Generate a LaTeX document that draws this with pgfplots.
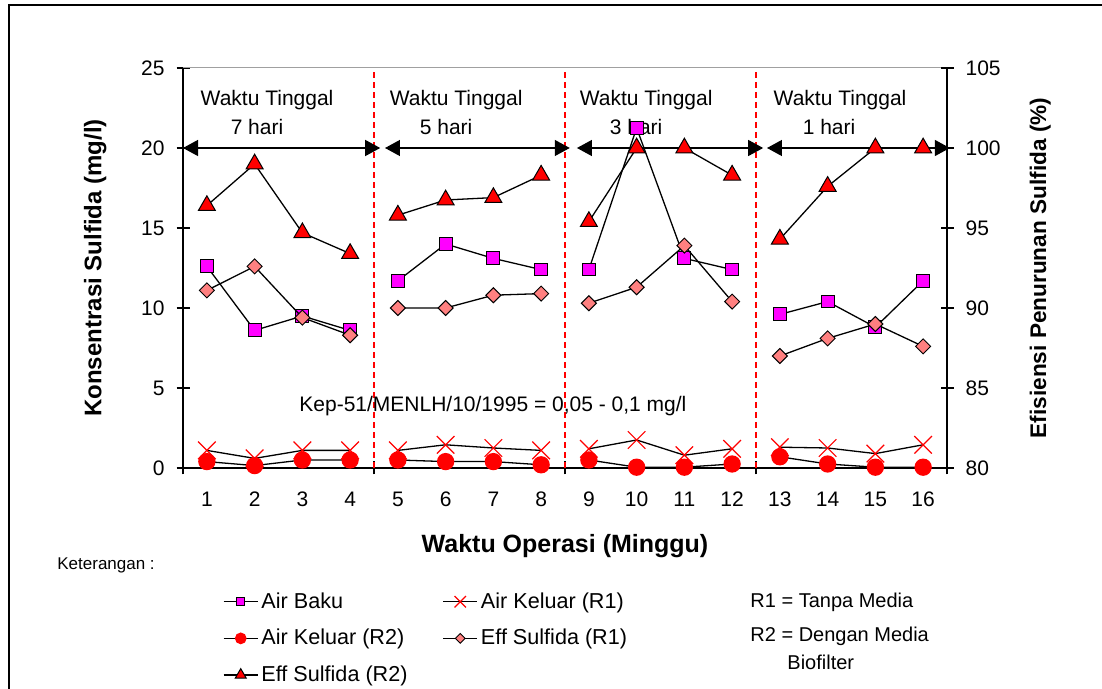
\documentclass[border=0pt]{standalone}
\usepackage{fontspec}
\setmainfont{Liberation Sans}
\usepackage{pgfplots}
\pgfplotsset{compat=1.18}
\usetikzlibrary{arrows.meta}
\definecolor{salmon}{HTML}{FF8080}
\definecolor{mag}{HTML}{FF00FF}
\definecolor{topgray}{HTML}{A0A0A0}
\pgfplotsset{
  sBaku/.style={black, line width=0.65pt, mark=square*, mark size=3.2pt, mark options={fill=mag, draw=black, line width=0.5pt, solid}},
  sR1/.style={black, line width=0.65pt, mark=x, mark size=6.2pt, mark options={draw=red, line width=0.6pt, solid}},
  sR2/.style={black, line width=0.65pt, mark=*, mark size=4pt, mark options={fill=red, draw=red, solid}},
  sE1/.style={black, line width=0.65pt, mark=square*, mark size=2.65pt, mark options={rotate=45, fill=salmon, draw=black, line width=0.5pt, solid}},
  sE2/.style={black, line width=0.65pt, mark=triangle*, mark size=4.9pt, mark options={fill=red, draw=black, line width=0.5pt, solid}},
  common/.style={
    at={(91.5pt,110.5pt)}, anchor=south west,
    scale only axis, width=382pt, height=200pt,
    xmin=0.5, xmax=16.5, clip=false,
    unbounded coords=jump,
    axis line style={black, line width=0.65pt},
    tick align=center, major tick length=6.5pt,
    tick style={black, line width=0.65pt},
    tick label style={font=\fontsize{10.5}{12}\selectfont},
    /pgf/number format/assume math mode=true,
    ticklabel shift=2.5pt,
  }
}
\begin{document}
\begin{tikzpicture}
\useasboundingbox (0,0) rectangle (551pt,344.5pt);
\draw[line width=1pt] (4.5pt,0pt) -- (4.5pt,342pt) -- (551pt,342pt);

\begin{axis}[common,
  ymin=0, ymax=25,
  axis x line*=bottom, axis y line*=left,
  xtick={0.5,4.5,8.5,12.5,16.5}, xticklabels={,,,,},
  extra x ticks={1,2,3,4,5,6,7,8,9,10,11,12,13,14,15,16},
  extra x tick labels={1,2,3,4,5,6,7,8,9,10,11,12,13,14,15,16},
  extra x tick style={major tick length=0pt, tick label style={yshift=-6pt}},
  ytick={0,5,10,15,20,25},
  xlabel={Waktu Operasi (Minggu)},
  xlabel style={font=\bfseries\fontsize{12.5}{14}\selectfont, at={(axis description cs:0.5,-0.195)}, anchor=center},
  ylabel={Konsentrasi Sulfida (mg/l)},
  ylabel style={font=\bfseries\fontsize{12}{14}\selectfont, at={(axis description cs:-0.115,0.5)}, anchor=center},
]
\draw[topgray, line width=0.5pt] (axis cs:0.5,25) -- (axis cs:16.5,25);
\foreach \xx in {4.5,8.5,12.5}{
  \edef\tmp{\noexpand\draw[red, line width=0.55pt, dash pattern=on 3pt off 2pt] (axis cs:\xx,0) -- (axis cs:\xx,25);}\tmp
}
\draw[line width=0.65pt, {Triangle[length=7.5pt,width=8pt]}-{Triangle[length=7.5pt,width=8pt]}] (axis cs:0.5,20) -- (axis cs:4.63,20);
\draw[line width=0.65pt, {Triangle[length=7.5pt,width=8pt]}-{Triangle[length=7.5pt,width=8pt]}] (axis cs:4.73,20) -- (axis cs:8.60,20);
\draw[line width=0.65pt, {Triangle[length=7.5pt,width=8pt]}-{Triangle[length=7.5pt,width=8pt]}] (axis cs:8.75,20) -- (axis cs:12.65,20);
\draw[line width=0.65pt, {Triangle[length=7.5pt,width=8pt]}-{Triangle[length=7.5pt,width=8pt]}] (axis cs:12.73,20) -- (axis cs:16.56,20);
\node[font=\fontsize{10.5}{12}\selectfont] at (axis cs:2.26,23) {Waktu Tinggal};
\node[font=\fontsize{10.5}{12}\selectfont] at (axis cs:6.22,23) {Waktu Tinggal};
\node[font=\fontsize{10.5}{12}\selectfont] at (axis cs:10.20,23) {Waktu Tinggal};
\node[font=\fontsize{10.5}{12}\selectfont] at (axis cs:14.26,23) {Waktu Tinggal};
\node[font=\fontsize{10.5}{12}\selectfont] at (axis cs:2.05,21.3) {7 hari};
\node[font=\fontsize{10.5}{12}\selectfont] at (axis cs:6.01,21.3) {5 hari};
\node[font=\fontsize{10.5}{12}\selectfont] at (axis cs:9.99,21.3) {3 hari};
\node[font=\fontsize{10.5}{12}\selectfont] at (axis cs:14.03,21.3) {1 hari};
\node[font=\fontsize{10.5}{12}\selectfont] at (axis cs:6.99,3.9) {Kep-51/MENLH/10/1995 = 0,05 - 0,1 mg/l};

\addplot[sBaku] coordinates {(1,12.6) (2,8.6) (3,9.5) (4,8.6) (4.5,nan) (5,11.7) (6,14.0) (7,13.1) (8,12.4) (8.5,nan) (9,12.4) (10,21.25) (11,13.1) (12,12.4) (12.5,nan) (13,9.6) (14,10.4) (15,8.8) (16,11.7)};
\addplot[sR1] coordinates {(1,1.1) (2,0.6) (3,1.1) (4,1.1) (4.5,nan) (5,1.1) (6,1.45) (7,1.25) (8,1.1) (8.5,nan) (9,1.2) (10,1.75) (11,0.8) (12,1.2) (12.5,nan) (13,1.3) (14,1.25) (15,0.9) (16,1.45)};
\addplot[sR2] coordinates {(1,0.4) (2,0.15) (3,0.5) (4,0.5) (4.5,nan) (5,0.5) (6,0.4) (7,0.4) (8,0.2) (8.5,nan) (9,0.5) (10,0.05) (11,0.05) (12,0.25) (12.5,nan) (13,0.7) (14,0.25) (15,0.05) (16,0.05)};
\end{axis}

\begin{axis}[common,
  ymin=80, ymax=105,
  axis y line*=right, axis x line=none,
  ytick={80,85,90,95,100,105},
  ylabel={Efisiensi Penurunan Sulfida (\%)},
  ylabel style={font=\bfseries\fontsize{11.3}{13}\selectfont, at={(axis description cs:1.122,0.5)}, anchor=center},
  legend columns=2,
  legend cell align=left,
  legend image post style={/tikz/every mark/.append style={scale=0.65}},
  legend style={at={(axis description cs:0.044,-0.29)}, anchor=north west, draw=none, fill=none,
    font=\fontsize{10.8}{12}\selectfont, row sep=5pt, nodes={inner xsep=1.5pt},
    /tikz/every even column/.append style={column sep=16pt}},
]
\addlegendimage{sBaku}\addlegendentry{Air Baku}
\addlegendimage{sR1}\addlegendentry{Air Keluar (R1)}
\addlegendimage{sR2}\addlegendentry{Air Keluar (R2)}
\addplot[sE1] coordinates {(1,91.1) (2,92.6) (3,89.4) (4,88.3) (4.5,nan) (5,90.0) (6,90.0) (7,90.8) (8,90.9) (8.5,nan) (9,90.3) (10,91.3) (11,93.9) (12,90.4) (12.5,nan) (13,87.0) (14,88.1) (15,89.0) (16,87.6)};
\addlegendentry{Eff Sulfida (R1)}
\addplot[sE2] coordinates {(1,96.4) (2,99.0) (3,94.7) (4,93.4) (4.5,nan) (5,95.8) (6,96.75) (7,96.9) (8,98.3) (8.5,nan) (9,95.4) (10,100) (11,100) (12,98.3) (12.5,nan) (13,94.3) (14,97.6) (15,100) (16,100)};
\addlegendentry{Eff Sulfida (R2)}
\end{axis}

\node[anchor=west, inner sep=0pt, font=\fontsize{8.5}{10}\selectfont] at (28.5pt,62pt) {Keterangan :};
\node[anchor=west, inner sep=0pt, font=\fontsize{10}{12}\selectfont] at (375pt,43.5pt) {R1 = Tanpa Media};
\node[anchor=west, inner sep=0pt, font=\fontsize{10}{12}\selectfont] at (375pt,26.5pt) {R2 = Dengan Media};
\node[anchor=west, inner sep=0pt, font=\fontsize{10}{12}\selectfont] at (393.5pt,13.5pt) {Biofilter};
\end{tikzpicture}
\end{document}
